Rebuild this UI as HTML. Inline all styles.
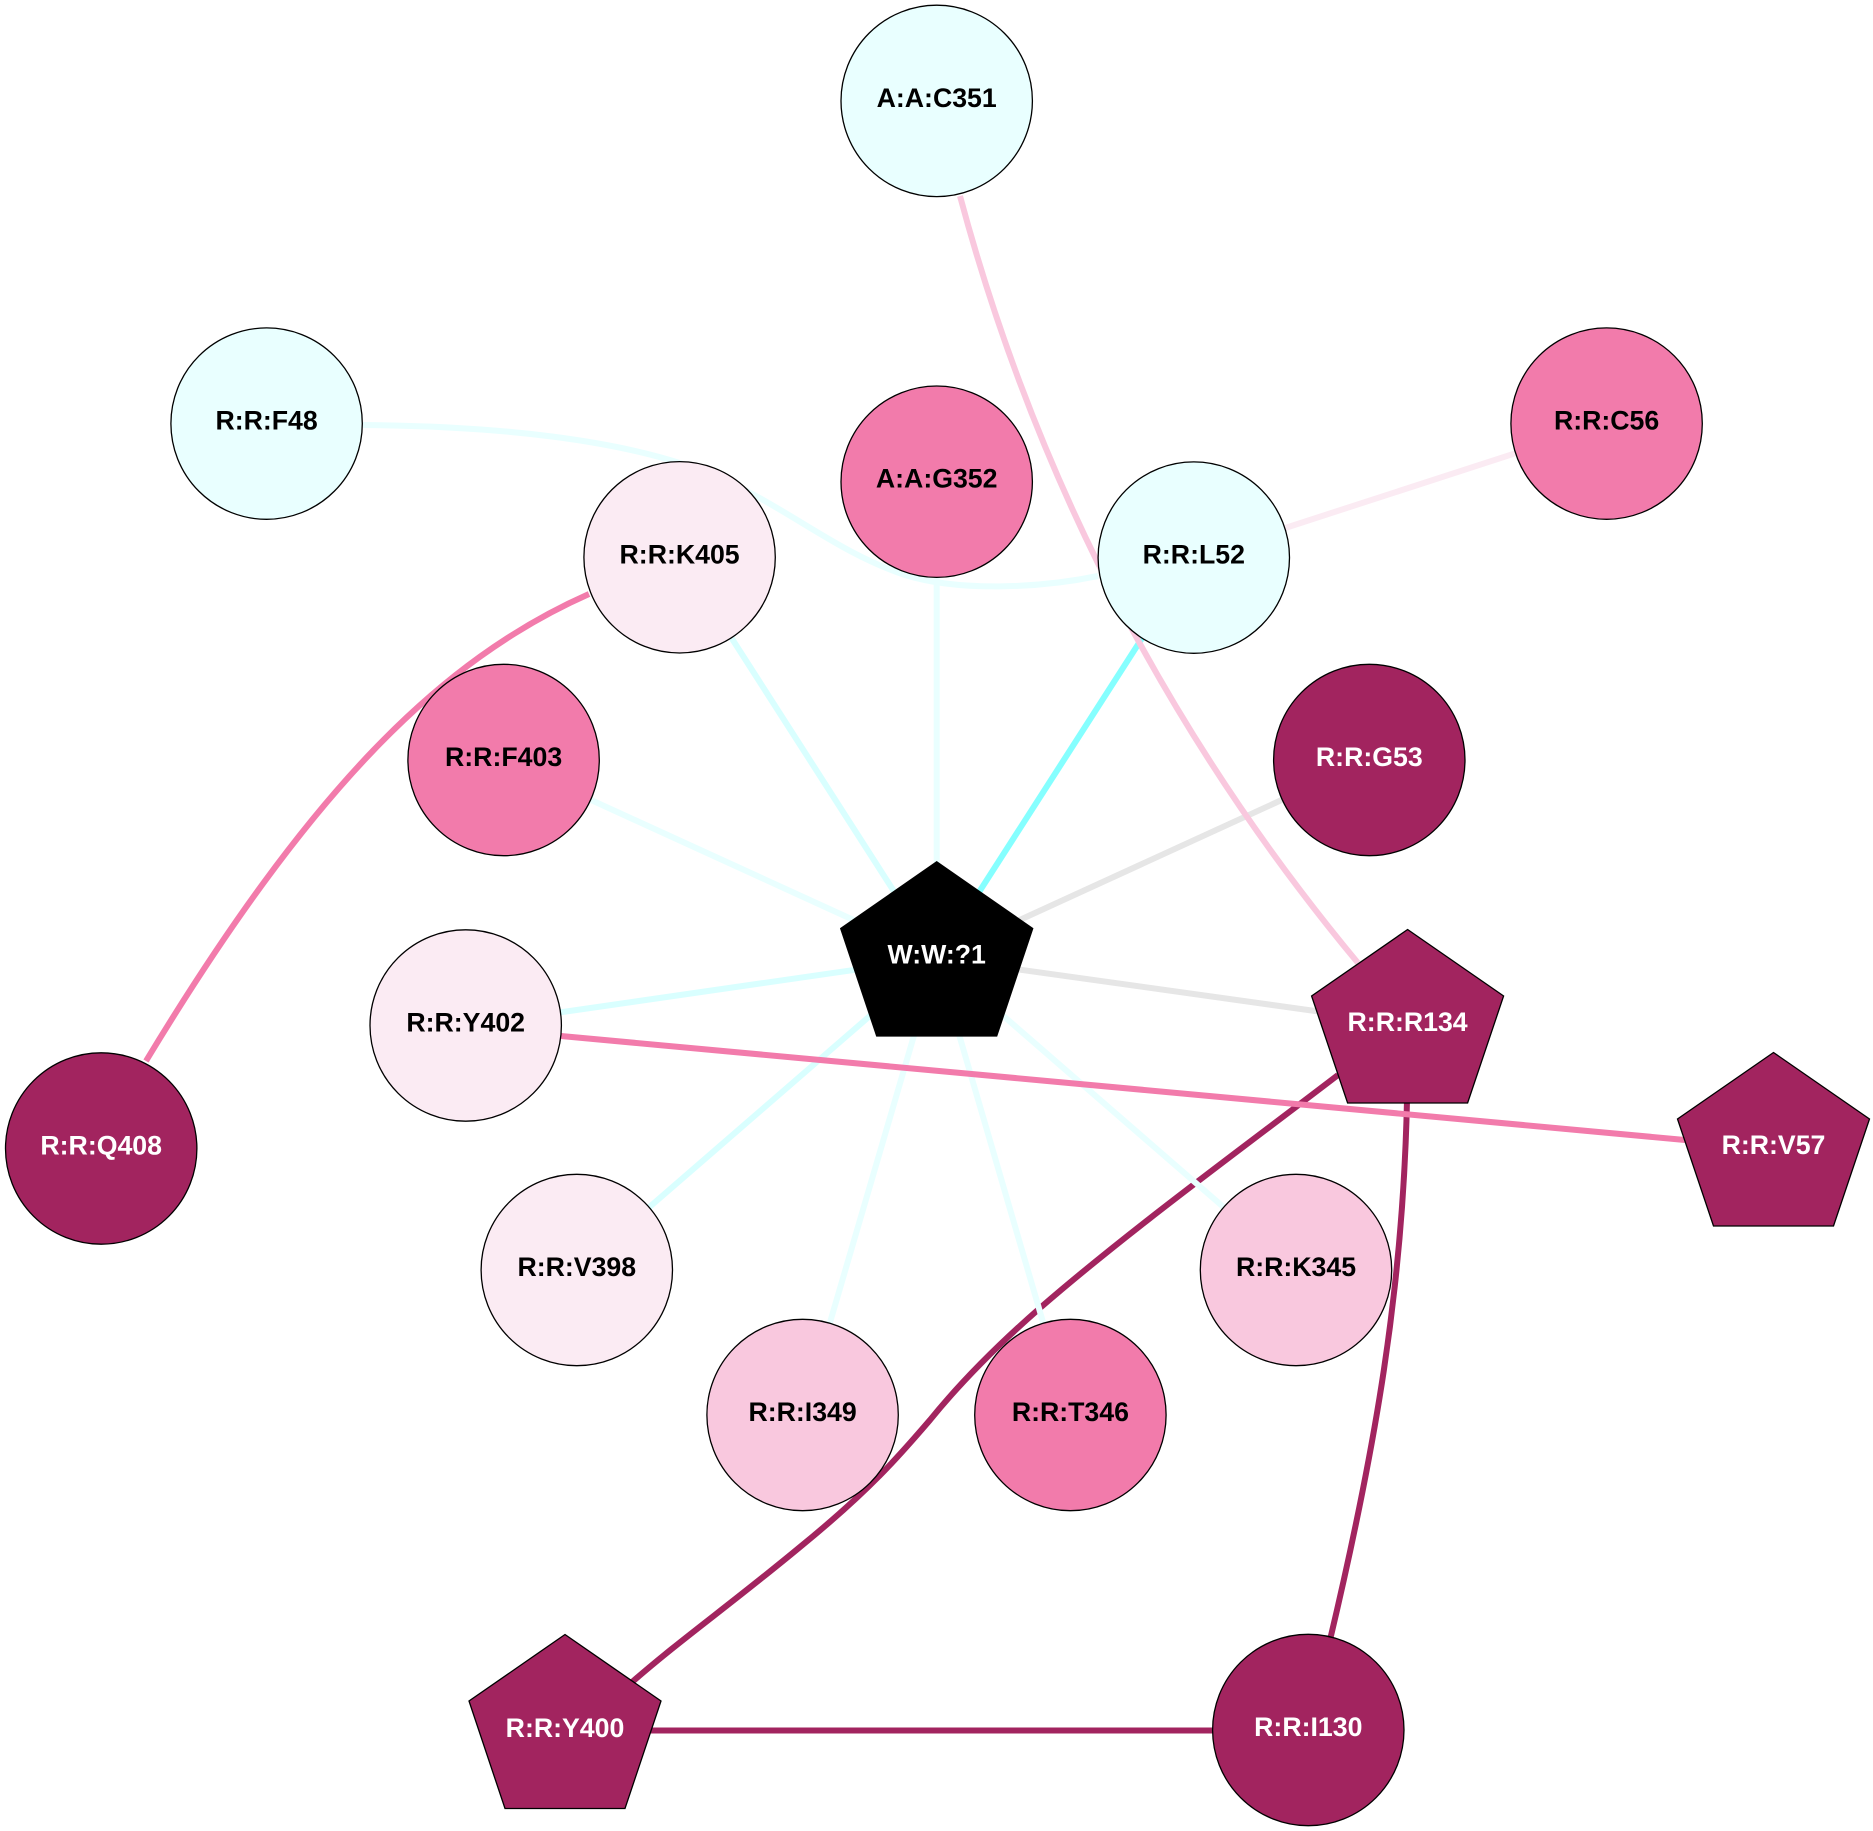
<!DOCTYPE html>
<html><head><meta charset="utf-8"><style>
html,body{margin:0;padding:0;background:#fff}
svg{display:block}
text{font-family:"Liberation Sans",Arial,sans-serif;font-weight:bold;font-size:26.7px;text-anchor:middle}
.d{fill:#fff}
.n{stroke:#000;stroke-width:1.3}
</style></head><body>
<svg width="1873" height="1831" viewBox="0 0 1873 1831" xmlns="http://www.w3.org/2000/svg">
<rect width="1873" height="1831" fill="#fff"/>
<g fill="none" stroke-width="6">
<path d="M363 425C500 426 620 440 700 470C780 500 830 550 905 575C960 592 1040 588 1098 576" stroke="#e9ffff"/>
<path d="M1194 557.6L1606.6 423.6" stroke="#fbebf3"/>
<path d="M1338 1075C1240 1150 1130 1230 1040 1308C1000 1343 960 1383 930 1420C900 1455 870 1490 800 1547C730 1605 680 1640 631 1683" stroke="#a2245f"/>
<path d="M1407 1100C1403 1290 1375 1450 1330 1640" stroke="#a2245f"/>
<path d="M565 1730.5L1308 1730.5" stroke="#a2245f"/>
<path d="M589 594C440 660 310 790 146 1061" stroke="#f27bab"/>
<path d="M936.7 958L1369 760" stroke="#e6e6e6"/>
<path d="M936.7 958L1408 1024" stroke="#e6e6e6"/>
<path d="M936.7 958L936.7 481" stroke="#e9ffff"/>
<path d="M936.7 958L679.6 557" stroke="#d9ffff"/>
<path d="M936.7 958L503.6 760" stroke="#e9ffff"/>
<path d="M936.7 958L465.7 1026" stroke="#d9ffff"/>
<path d="M936.7 958L576.8 1270" stroke="#d9ffff"/>
<path d="M936.7 958L802.6 1416" stroke="#e9ffff"/>
<path d="M936.7 958L1070.4 1416" stroke="#e9ffff"/>
<path d="M936.7 958L1296 1270" stroke="#e9ffff"/>
<path d="M936.7 958L1193.8 557.6" stroke="#85ffff"/>
<path d="M960 196C1020 420 1135 695 1358 963" stroke="#f9c8de"/>
<path d="M561 1036L1685 1140" stroke="#f27bab"/>
</g>
<g class="n">
<circle class="n" cx="936.7" cy="100.9" r="95.7" fill="#e9ffff"/>
<circle class="n" cx="936.7" cy="481.7" r="95.7" fill="#f27bab"/>
<circle class="n" cx="1193.8" cy="557.6" r="95.7" fill="#e9ffff"/>
<circle class="n" cx="1606.6" cy="423.6" r="95.7" fill="#f27bab"/>
<circle class="n" cx="266.6" cy="423.6" r="95.7" fill="#e9ffff"/>
<circle class="n" cx="679.6" cy="557.3" r="95.7" fill="#fbebf3"/>
<circle class="n" cx="503.6" cy="760" r="95.7" fill="#f27bab"/>
<circle class="n" cx="1369.3" cy="760" r="95.7" fill="#a2245f"/>
<circle class="n" cx="465.7" cy="1025.5" r="95.7" fill="#fbebf3"/>
<circle class="n" cx="101.2" cy="1148.5" r="95.7" fill="#a2245f"/>
<circle class="n" cx="576.8" cy="1270" r="95.7" fill="#fbebf3"/>
<circle class="n" cx="802.6" cy="1415" r="95.7" fill="#f9c8de"/>
<circle class="n" cx="1070.4" cy="1415" r="95.7" fill="#f27bab"/>
<circle class="n" cx="1296" cy="1270" r="95.7" fill="#f9c8de"/>
<circle class="n" cx="1308.3" cy="1730" r="95.7" fill="#a2245f"/>
<polygon points="936.7,861.8 1032.7,928.5 996.7,1036 876.7,1036 840.7,928.5" fill="#000"/>
<polygon points="1407.6,929.5 1503.6,996 1467.6,1103 1347.6,1103 1311.6,996" fill="#a2245f"/>
<polygon points="1773.5,1052.5 1869.5,1119 1833.5,1226 1713.5,1226 1677.5,1119" fill="#a2245f"/>
<polygon points="565,1634.5 661,1701 625,1808.5 505,1808.5 469,1701" fill="#a2245f"/>
</g>
<text x="936.7" y="106.9">A:A:C351</text>
<text x="936.7" y="487.7">A:A:G352</text>
<text x="1193.8" y="563.6">R:R:L52</text>
<text x="1606.6" y="429.6">R:R:C56</text>
<text x="266.6" y="429.6">R:R:F48</text>
<text x="679.6" y="563.3">R:R:K405</text>
<text x="503.6" y="766">R:R:F403</text>
<text class="d" x="1369.3" y="766">R:R:G53</text>
<text x="465.7" y="1031.5">R:R:Y402</text>
<text class="d" x="101.2" y="1154.5">R:R:Q408</text>
<text x="576.8" y="1276">R:R:V398</text>
<text x="802.6" y="1421">R:R:I349</text>
<text x="1070.4" y="1421">R:R:T346</text>
<text x="1296" y="1276">R:R:K345</text>
<text class="d" x="1308.3" y="1736">R:R:I130</text>
<text class="d" x="936.7" y="963.5">W:W:?1</text>
<text class="d" x="1407.6" y="1031">R:R:R134</text>
<text class="d" x="1773.5" y="1154">R:R:V57</text>
<text class="d" x="565" y="1737">R:R:Y400</text>
</svg>
</body></html>
